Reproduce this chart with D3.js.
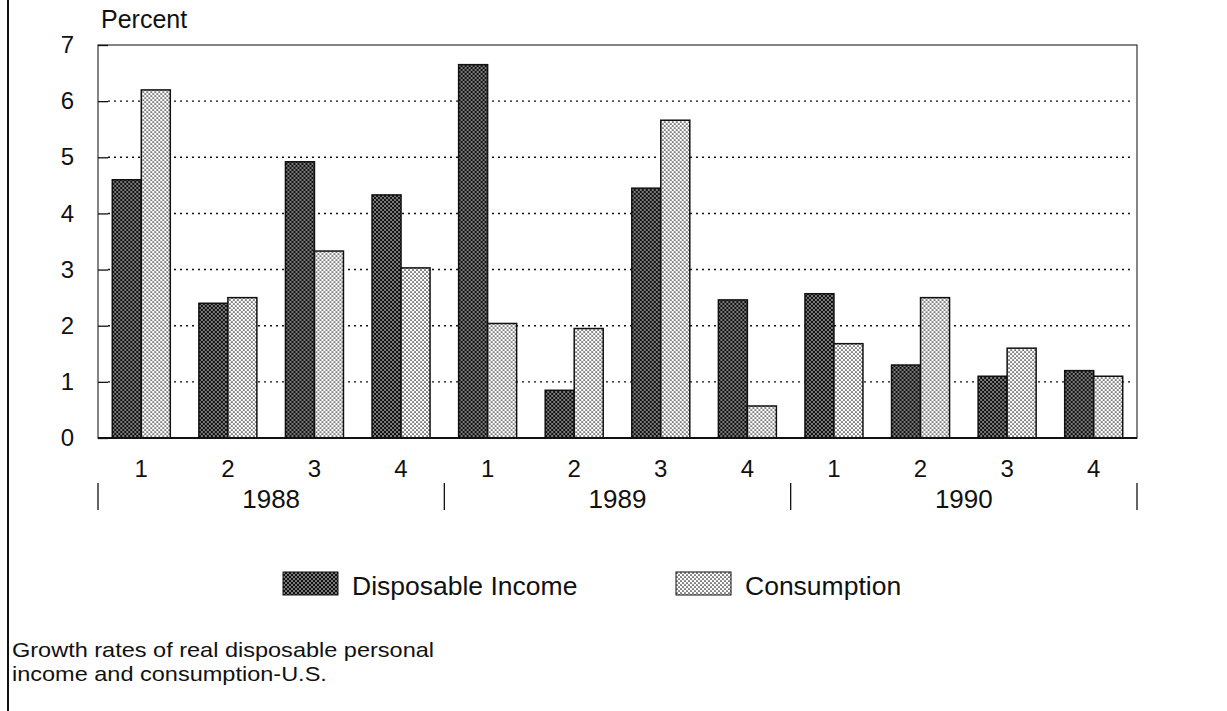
<!DOCTYPE html>
<html>
<head>
<meta charset="utf-8">
<script src="https://cdn.jsdelivr.net/npm/d3@7"></script>
<style>
  body { margin: 0; background: #fff; }
  svg { font-family: "Liberation Sans", Arial, sans-serif; }
</style>
</head>
<body>
<svg id="chart" width="1227" height="711"></svg>
<script>
// data
var years = ["1988", "1989", "1990"];
var quarters = ["1", "2", "3", "4"];
var seriesNames = ["Disposable Income", "Consumption"];
var income = [4.6, 2.4, 4.92, 4.33, 6.65, 0.85, 4.45, 2.46, 2.57, 1.3, 1.1, 1.2];
var consumption = [6.2, 2.5, 3.33, 3.03, 2.04, 1.95, 5.66, 0.57, 1.68, 2.5, 1.6, 1.1];
var yTicks = [0, 1, 2, 3, 4, 5, 6, 7];

var svg = d3.select("#chart");
var margin = {left: 98, top: 45, right: 90, bottom: 273};
var width = 1227 - margin.left - margin.right,
    height = 711 - margin.top - margin.bottom;

// halftone patterns
var defs = svg.append("defs");
var pDark = defs.append("pattern").attr("id", "dark")
  .attr("patternUnits", "userSpaceOnUse").attr("width", 4).attr("height", 4);
pDark.append("rect").attr("width", 4).attr("height", 4).attr("fill", "#111");
pDark.append("circle").attr("cx", 1).attr("cy", 1).attr("r", 0.8).attr("fill", "#fff");
pDark.append("circle").attr("cx", 3).attr("cy", 3).attr("r", 0.8).attr("fill", "#fff");

var pLight = defs.append("pattern").attr("id", "light")
  .attr("patternUnits", "userSpaceOnUse").attr("width", 4).attr("height", 4);
pLight.append("rect").attr("width", 4).attr("height", 4).attr("fill", "#fff");
pLight.append("circle").attr("cx", 1).attr("cy", 1).attr("r", 0.85).attr("fill", "#1a1a1a");
pLight.append("circle").attr("cx", 3).attr("cy", 3).attr("r", 0.85).attr("fill", "#1a1a1a");

var fills = ["url(#dark)", "url(#light)"];

// left page border
svg.append("line").attr("x1", 8).attr("x2", 8).attr("y1", 0).attr("y2", 711)
  .attr("stroke", "#111").attr("stroke-width", 2);

var g = svg.append("g").attr("transform", "translate(" + margin.left + "," + margin.top + ")");

// categories: every quarter of every year
var cats = [];
years.forEach(function(yr) {
  quarters.forEach(function(q) { cats.push(yr + "-" + q); });
});

var x = d3.scaleBand().domain(cats).range([0, width])
  .paddingInner(0.33).paddingOuter(0.165);
var xs = d3.scaleBand().domain(seriesNames).range([0, x.bandwidth()]);
var y = d3.scaleLinear().domain([0, 7]).range([height, 0]);

// dotted gridlines
g.append("g")
  .selectAll("line")
  .data(yTicks.filter(function(d) { return d > 0 && d < 7; }))
  .enter().append("line")
  .attr("x1", 10).attr("x2", width - 4)
  .attr("y1", function(d) { return y(d); })
  .attr("y2", function(d) { return y(d); })
  .attr("stroke", "#111").attr("stroke-width", 1.4)
  .attr("stroke-dasharray", "2,4");

// plot frame
g.append("rect").attr("width", width).attr("height", height)
  .attr("fill", "none").attr("stroke", "#333").attr("stroke-width", 1.2);

// y axis: inward ticks and labels
var yAxis = g.append("g")
  .call(d3.axisLeft(y).tickValues(yTicks).tickFormat(d3.format("d"))
    .tickSize(-10).tickPadding(24));
yAxis.select(".domain").remove();
yAxis.selectAll("line").attr("stroke", "#111").attr("stroke-width", 1.3);
yAxis.selectAll("text").attr("font-size", 24).attr("fill", "#111");

// bars
var rows = cats.map(function(c, i) { return {cat: c, vals: [income[i], consumption[i]]}; });
g.selectAll(".grp")
  .data(rows)
  .enter().append("g")
  .attr("transform", function(d) { return "translate(" + x(d.cat) + ",0)"; })
  .selectAll("rect")
  .data(function(d) { return d.vals.map(function(v, k) { return {k: k, v: v}; }); })
  .enter().append("rect")
  .attr("x", function(d) { return xs(seriesNames[d.k]); })
  .attr("width", xs.bandwidth())
  .attr("y", function(d) { return y(d.v); })
  .attr("height", function(d) { return height - y(d.v); })
  .attr("fill", function(d) { return fills[d.k]; })
  .attr("stroke", "#111").attr("stroke-width", 1.5);

// baseline
g.append("line").attr("x1", 0).attr("x2", width).attr("y1", height).attr("y2", height)
  .attr("stroke", "#111").attr("stroke-width", 1.8);

// quarter labels
var xAxis = g.append("g").attr("transform", "translate(0," + height + ")")
  .call(d3.axisBottom(x).tickSize(0).tickPadding(22)
    .tickFormat(function(d) { return d.split("-")[1]; }));
xAxis.select(".domain").remove();
xAxis.selectAll("text").attr("font-size", 24).attr("fill", "#111");

// year groups
var yx = d3.scaleBand().domain(years).range([0, width]);
g.selectAll(".sep")
  .data(d3.range(years.length + 1))
  .enter().append("line")
  .attr("x1", function(i) { return i * yx.step(); })
  .attr("x2", function(i) { return i * yx.step(); })
  .attr("y1", height + 45).attr("y2", height + 72)
  .attr("stroke", "#111").attr("stroke-width", 1.3);
g.selectAll(".yr")
  .data(years)
  .enter().append("text")
  .attr("x", function(d) { return yx(d) + yx.bandwidth() / 2; })
  .attr("y", height + 70)
  .attr("text-anchor", "middle")
  .attr("font-size", 26).attr("fill", "#111")
  .text(function(d) { return d; });

// y title
svg.append("text").attr("x", 101).attr("y", 28)
  .attr("font-size", 25).attr("fill", "#111").text("Percent");

// legend
var legendX = [283, 676];
var lg = svg.selectAll(".lg").data(seriesNames).enter().append("g")
  .attr("transform", function(d, i) { return "translate(" + legendX[i] + ",572)"; });
lg.append("rect").attr("width", 55).attr("height", 23)
  .attr("fill", function(d, i) { return fills[i]; })
  .attr("stroke", "#111").attr("stroke-width", 1);
lg.append("text").attr("x", 69).attr("y", 23)
  .attr("font-size", 26.5).attr("fill", "#111")
  .text(function(d) { return d; });

// caption (slightly wide face in the original, so stretch horizontally)
var cap = svg.append("text")
  .attr("transform", "translate(12,657) scale(1.12,1)")
  .attr("font-size", 21).attr("fill", "#111");
cap.append("tspan").attr("x", 0).attr("y", 0).text("Growth rates of real disposable personal");
cap.append("tspan").attr("x", 0).attr("y", 24).text("income and consumption-U.S.");
</script>
</body>
</html>
